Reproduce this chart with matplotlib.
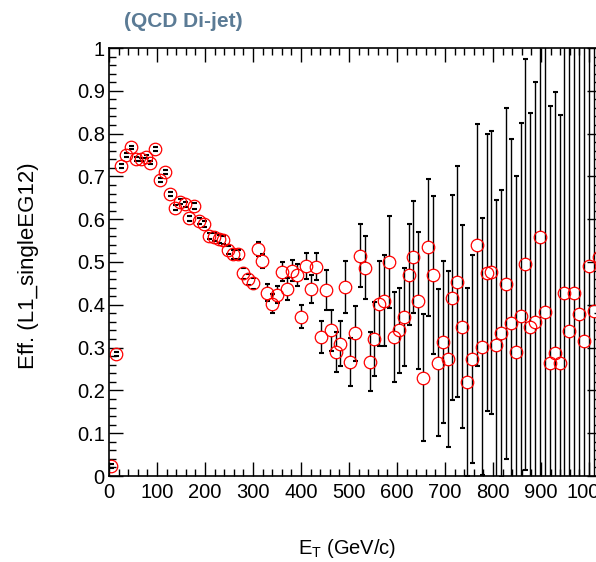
import numpy as np
import matplotlib
matplotlib.use('Agg')
import matplotlib.pyplot as plt
from matplotlib.ticker import MultipleLocator, FuncFormatter

plt.rcParams['font.family'] = ['Liberation Sans', 'DejaVu Sans']

# 101 bins between 0 and 1025 GeV
n_bins = 101
x_max = 1025
et = (np.arange(n_bins) + 0.5) * x_max / n_bins

eff = [0.023, 0.285, 0.724, 0.750, 0.768, 0.741, 0.740, 0.746, 0.732, 0.764,
       0.692, 0.710, 0.659, 0.627, 0.641, 0.635, 0.602, 0.631, 0.596, 0.588,
       0.561, 0.559, 0.553, 0.551, 0.528, 0.518, 0.518, 0.474, 0.460, 0.450,
       0.530, 0.502, 0.428, 0.403, 0.424, 0.477, 0.437, 0.480, 0.470, 0.372,
       0.491, 0.437, 0.489, 0.324, 0.435, 0.340, 0.290, 0.309, 0.442, 0.266,
       0.333, 0.515, 0.487, 0.267, 0.320, 0.403, 0.410, 0.500, 0.325, 0.340,
       0.372, 0.470, 0.512, 0.410, 0.230, 0.534, 0.470, 0.265, 0.313, 0.273,
       0.417, 0.454, 0.349, 0.220, 0.273, 0.540, 0.302, 0.475, 0.476, 0.306,
       0.333, 0.449, 0.357, 0.290, 0.374, 0.495, 0.347, 0.360, 0.558, 0.383,
       0.265, 0.288, 0.263, 0.427, 0.339, 0.428, 0.378, 0.315, 0.491, 0.386,
       0.512]

err = [0.004, 0.005, 0.004, 0.004, 0.004, 0.004, 0.004, 0.004, 0.004, 0.004,
       0.005, 0.005, 0.005, 0.006, 0.006, 0.006, 0.006, 0.006, 0.007, 0.007,
       0.007, 0.009, 0.009, 0.009, 0.010, 0.010, 0.010, 0.013, 0.013, 0.013,
       0.016, 0.017, 0.020, 0.022, 0.020, 0.022, 0.025, 0.024, 0.025, 0.027,
       0.031, 0.033, 0.031, 0.037, 0.046, 0.049, 0.047, 0.053, 0.060, 0.056,
       0.064, 0.074, 0.074, 0.069, 0.086, 0.100, 0.106, 0.107, 0.106, 0.100,
       0.115, 0.118, 0.130, 0.160, 0.148, 0.160, 0.185, 0.172, 0.190, 0.205,
       0.240, 0.270, 0.238, 0.220, 0.243, 0.283, 0.300, 0.323, 0.330, 0.340,
       0.335, 0.410, 0.430, 0.410, 0.450, 0.480, 0.500, 0.560, 0.600, 0.620,
       0.600, 0.610, 0.580, 0.650, 0.700, 0.640, 0.680, 0.740, 0.660, 0.720,
       0.700]

eff = np.array(eff)
err = np.array(err)

fig = plt.figure(figsize=(5.96, 5.62), dpi=100)
ax = fig.add_axes([109 / 596, 86 / 562, 492 / 596, 428 / 562])

# error bars stop at the marker edge, like ROOT does
r = 0.014
big = err > r
ax.vlines(et[big], eff[big] + r, eff[big] + err[big], color='black', lw=1)
ax.vlines(et[big], eff[big] - err[big], eff[big] - r, color='black', lw=1)
ax.plot(et, eff + err, '_', color='black', ms=3.6, mew=1.5)
ax.plot(et, eff - err, '_', color='black', ms=3.6, mew=1.5)
ax.plot(et, eff, 'o', mfc='none', mec='red', ms=9, mew=0.9)

ax.set_xlim(0, x_max)
ax.set_ylim(0, 1)
ax.xaxis.set_major_locator(MultipleLocator(100))
ax.xaxis.set_minor_locator(MultipleLocator(20))
ax.yaxis.set_major_locator(MultipleLocator(0.1))
ax.yaxis.set_minor_locator(MultipleLocator(0.02))
ax.yaxis.set_major_formatter(FuncFormatter(lambda v, p: f'{v:g}'))
ax.xaxis.set_major_formatter(FuncFormatter(lambda v, p: f'{v:g}'))
ax.tick_params(which='both', direction='in', top=True, right=True,
               width=1, labelsize=14.5, colors='black')
ax.tick_params(which='major', length=10)
ax.tick_params(which='minor', length=5)
ax.tick_params(axis='y', pad=3)
ax.tick_params(axis='x', pad=5)
for s in ax.spines.values():
    s.set_linewidth(1.2)

fig.text(347.5 / 596, 1 - 554 / 562, r'E$_\mathregular{T}$ (GeV/c)',
         ha='center', va='baseline', fontsize=14.5)
fig.text(29 / 596, 1 - 266 / 562, 'Eff. (L1_singleEG12)', rotation=90,
         ha='center', va='center', fontsize=16)
fig.text(183 / 596, 1 - 27 / 562, '(QCD Di-jet)', ha='center', va='baseline',
         fontsize=15, fontweight='bold', color='#5b7b95')

fig.savefig('out.png', dpi=100)
